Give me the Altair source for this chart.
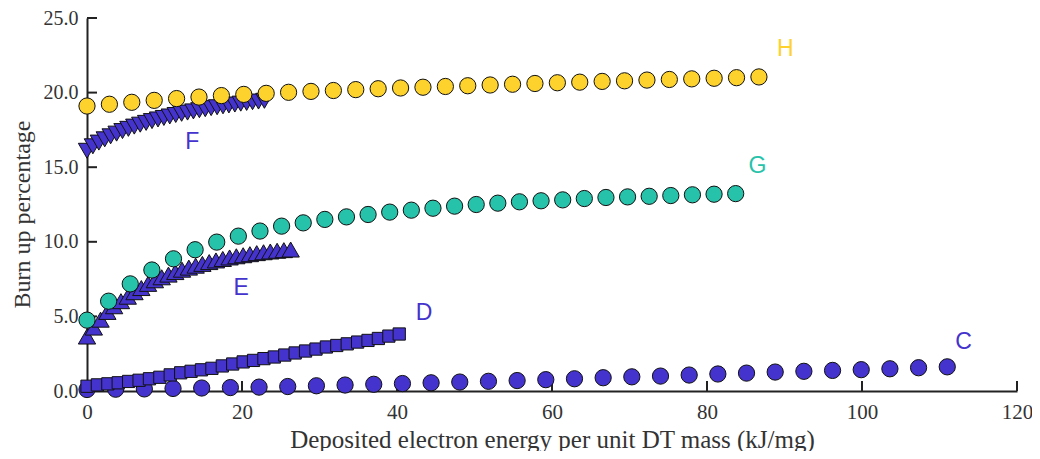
import altair as alt
import pandas as pd

# ---- data ----
c_x = [0, 3.7, 7.4, 11.1, 14.8, 18.5, 22.2, 25.9, 29.6, 33.3, 37.0, 40.7, 44.4, 48.1, 51.8, 55.5,
       59.2, 62.9, 66.6, 70.3, 74.0, 77.7, 81.4, 85.1, 88.8, 92.5, 96.2, 99.9, 103.6, 107.3, 111.0]
c_y = [0.10, 0.12, 0.14, 0.17, 0.20, 0.23, 0.26, 0.30, 0.35, 0.40, 0.45, 0.50, 0.55, 0.60, 0.65, 0.70,
       0.76, 0.82, 0.89, 0.95, 1.00, 1.07, 1.14, 1.20, 1.27, 1.32, 1.38, 1.43, 1.49, 1.56, 1.62]

d_x = [0, 1.34, 2.69, 4.03, 5.37, 6.72, 8.06, 9.40, 10.74, 12.09, 13.43, 14.77, 16.12, 17.46, 18.80, 20.15,
       21.49, 22.83, 24.17, 25.52, 26.86, 28.20, 29.55, 30.89, 32.23, 33.58, 34.92, 36.26, 37.60, 38.95, 40.29]
d_y = [0.32, 0.41, 0.48, 0.55, 0.64, 0.72, 0.82, 0.92, 1.08, 1.22, 1.32, 1.42, 1.52, 1.68, 1.81, 1.95,
       2.05, 2.17, 2.28, 2.41, 2.55, 2.68, 2.81, 2.95, 3.05, 3.16, 3.28, 3.39, 3.52, 3.68, 3.82]

e_x = [0, 0.88, 1.75, 2.63, 3.50, 4.38, 5.26, 6.13, 7.01, 7.88, 8.76, 9.64, 10.51, 11.39, 12.26, 13.14,
       14.02, 14.89, 15.77, 16.64, 17.52, 18.40, 19.27, 20.15, 21.02, 21.90, 22.78, 23.65, 24.53, 25.40, 26.28]
e_y = [3.65, 4.25, 4.78, 5.30, 5.68, 6.02, 6.32, 6.62, 6.90, 7.18, 7.42, 7.62, 7.80, 7.97, 8.13, 8.27,
       8.40, 8.52, 8.64, 8.75, 8.85, 8.95, 9.03, 9.10, 9.17, 9.24, 9.30, 9.35, 9.40, 9.44, 9.48]

f_x = [0, 0.76, 1.53, 2.29, 3.05, 3.82, 4.58, 5.34, 6.10, 6.87, 7.63, 8.39, 9.16, 9.92, 10.68, 11.45,
       12.21, 12.97, 13.73, 14.50, 15.26, 16.02, 16.79, 17.55, 18.31, 19.08, 19.84, 20.60, 21.36, 22.13, 22.89]
f_y = [16.10, 16.40, 16.65, 16.87, 17.07, 17.25, 17.42, 17.57, 17.72, 17.85, 17.97, 18.09, 18.20, 18.30, 18.40, 18.50,
       18.58, 18.66, 18.74, 18.82, 18.89, 18.96, 19.02, 19.08, 19.14, 19.20, 19.26, 19.31, 19.36, 19.40, 19.45]

g_x = [0, 2.79, 5.58, 8.37, 11.16, 13.95, 16.74, 19.53, 22.32, 25.11, 27.90, 30.69, 33.48, 36.27, 39.06, 41.85,
       44.64, 47.43, 50.22, 53.01, 55.80, 58.59, 61.38, 64.17, 66.96, 69.75, 72.54, 75.33, 78.12, 80.91, 83.70]
g_y = [4.75, 6.02, 7.18, 8.11, 8.86, 9.47, 9.98, 10.38, 10.72, 11.05, 11.27, 11.50, 11.67, 11.83, 11.99, 12.12,
       12.25, 12.39, 12.50, 12.59, 12.68, 12.75, 12.81, 12.90, 12.97, 13.01, 13.05, 13.10, 13.15, 13.19, 13.23]

h_x = [0, 2.89, 5.78, 8.67, 11.56, 14.45, 17.34, 20.23, 23.12, 26.01, 28.90, 31.79, 34.68, 37.57, 40.46, 43.35,
       46.24, 49.13, 52.02, 54.91, 57.80, 60.69, 63.58, 66.47, 69.36, 72.25, 75.14, 78.03, 80.92, 83.81, 86.70]
h_y = [19.10, 19.22, 19.35, 19.48, 19.60, 19.70, 19.80, 19.88, 19.95, 20.02, 20.08, 20.14, 20.20, 20.26, 20.31, 20.36,
       20.41, 20.46, 20.51, 20.56, 20.61, 20.66, 20.70, 20.75, 20.79, 20.84, 20.88, 20.92, 20.96, 21.00, 21.05]

series_names = ["C", "D", "E", "F", "G", "H"]
label_x = [113.1, 43.5, 19.9, 13.6, 86.5, 90.1]
label_y = [3.3, 5.25, 6.9, 16.7, 15.1, 22.9]

x_ticks = [20, 40, 60, 80, 100, 120]
y_ticks = [5, 10, 15, 20, 25]

# ---- styles ----
BLUE = "#4433CC"
TEAL = "#26C2AA"
YELLOW = "#FDD22C"
fills = [BLUE, BLUE, BLUE, BLUE, TEAL, YELLOW]
shapes = ["circle", "square", "triangle-up", "triangle-down", "circle", "circle"]
sizes = [264, 150, 300, 300, 264, 264]

W, H = 930, 373
AX = "#222222"
SERIF = "Liberation Serif"
XT = "Deposited electron energy per unit DT mass (kJ/mg)"
YT = "Burn up percentage"

x_enc = alt.X("x:Q", title=XT,
              scale=alt.Scale(domain=[0, 120], nice=False, zero=False),
              axis=alt.Axis(values=[0, 20, 40, 60, 80, 100, 120], format="d", grid=False,
                            ticks=False, tickSize=0, labelPadding=10,
                            labelFont=SERIF, labelFontSize=21, labelColor="#333333",
                            titleFont=SERIF, titleFontSize=25, titleFontWeight="normal",
                            titleColor="#333333", titlePadding=5,
                            domainColor=AX, domainWidth=2, labelFlush=False))
y_enc = alt.Y("y:Q", title=YT,
              scale=alt.Scale(domain=[0, 25], nice=False, zero=False),
              axis=alt.Axis(values=[0, 5, 10, 15, 20, 25], format=".1f", grid=False,
                            ticks=False, tickSize=0, labelPadding=9,
                            labelFont=SERIF, labelFontSize=20, labelColor="#333333",
                            titleFont=SERIF, titleFontSize=24, titleFontWeight="normal",
                            titleColor="#333333", titlePadding=9, titleY=196,
                            domainColor=AX, domainWidth=2, labelFlush=False))

layers = []
layers.append(alt.Chart(pd.DataFrame({"x": x_ticks})).mark_rule(color=AX, strokeWidth=2).encode(
    x=x_enc, y=alt.value(H), y2=alt.value(H - 10)))
layers.append(alt.Chart(pd.DataFrame({"y": y_ticks})).mark_rule(color=AX, strokeWidth=2).encode(
    y=y_enc, x=alt.value(0), x2=alt.value(10)))

all_x = [c_x, d_x, e_x, f_x, g_x, h_x]
all_y = [c_y, d_y, e_y, f_y, g_y, h_y]
for i, name in enumerate(series_names):
    df = pd.DataFrame({"x": all_x[i], "y": all_y[i]})
    layers.append(alt.Chart(df).mark_point(
        filled=True, fill=fills[i], stroke="#111111", strokeWidth=1, opacity=1,
        shape=shapes[i], size=sizes[i]).encode(x=x_enc, y=y_enc))

for i, name in enumerate(series_names):
    df = pd.DataFrame({"x": [label_x[i]], "y": [label_y[i]], "t": [name]})
    layers.append(alt.Chart(df).mark_text(
        font="Liberation Sans", fontSize=23, align="center", baseline="middle",
        color=fills[i]).encode(x=x_enc, y=y_enc, text="t:N"))

chart = alt.layer(*layers).properties(
    width=W, height=H,
    padding={"left": 79, "top": 10, "right": 15, "bottom": 60},
    autosize=alt.AutoSizeParams(type="none"),
).configure_view(stroke=None)

chart.save("out.html", embed_options={"renderer": "svg", "actions": False})
